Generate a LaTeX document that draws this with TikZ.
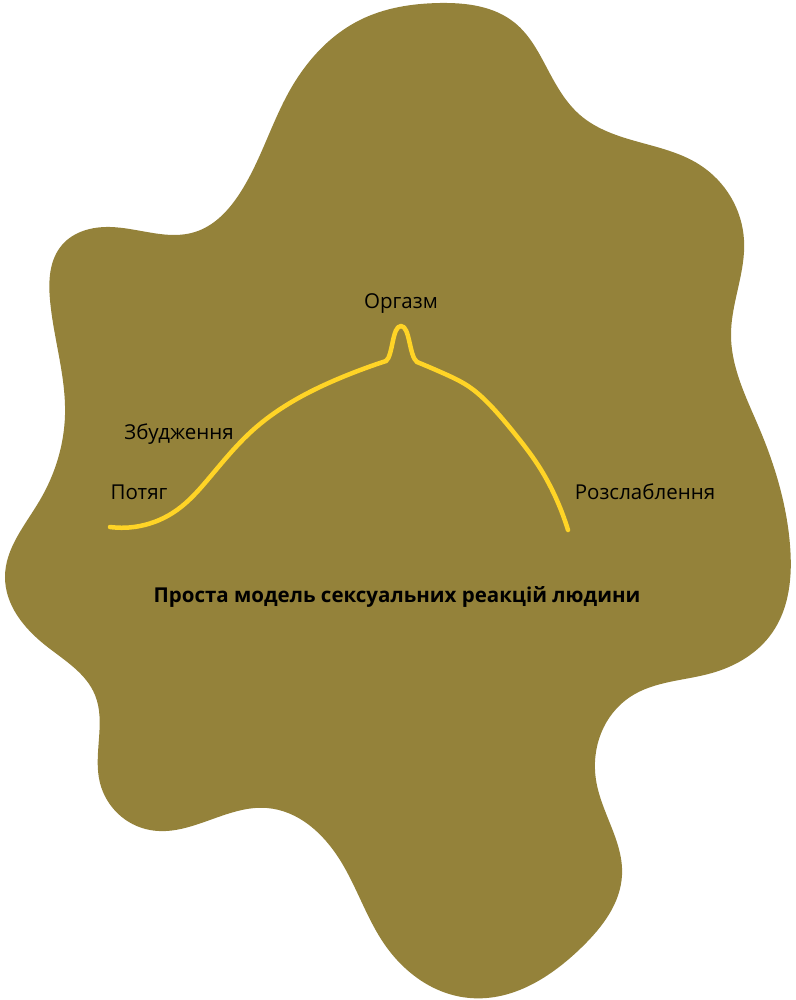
\documentclass[tikz,border=0pt]{standalone}
\usepackage{fontspec}
\setmainfont{Open Sans}
\usetikzlibrary{hobby}
\definecolor{olive}{RGB}{148,130,58}
\definecolor{curveyellow}{RGB}{255,212,38}
\begin{document}
\begin{tikzpicture}[x=1pt,y=-1pt,
  lbl/.style={font=\fontsize{20.5}{24}\selectfont, text=black, inner sep=0pt},
  ttl/.style={font=\bfseries\fontsize{20.5}{24}\selectfont, text=black, inner sep=0pt},
  curveline/.style={curveyellow, line width=4.5pt, line cap=round, line join=round}]
\useasboundingbox (0,0) rectangle (795,1000);
\fill[olive, use Hobby shortcut, closed=true]
 (440,3) .. (515,23) .. (548,70) .. (580,115) .. (625,138) .. (700,165) .. (744,240)
 .. (731,335) .. (760,430) .. (790,545) .. (772,633) .. (712,673)
 .. (630,697) .. (596,780) .. (622,875) .. (582,947) .. (470,998)
 .. (385,945) .. (340,860) .. (267,808) .. (150,830) .. (100,783)
 .. (95,695) .. (45,645) .. (5,577) .. (40,500) .. (65,415)
 .. (50,300) .. (62,245) .. (110,227) .. (195,232) .. (240,193)
 .. (290,90) .. (360,20);
\draw[curveline, use Hobby shortcut]
  (110,527) .. (140,526) .. (177,510) .. (210,477) .. (253,430) .. (295,400) .. (345,376) .. (386,361);
\draw[curveline]
  (386,361) .. controls (393,356) and (392,326) .. (401,326)
  .. controls (410,326) and (409,356) .. (417,362);
\draw[curveline, use Hobby shortcut]
  (417,362) .. (445,374) .. (468,386) .. (490,405) .. (515,434) .. (538,465) .. (555,496) .. (568,530);
\node[lbl] (orgasm) at (401,304) {Оргазм};
\node[lbl] (arousal) at (179,434) {Збудження};
\node[lbl] (desire) at (139,492) {Потяг};
\node[lbl] (relax) at (645,492) {Розслаблення};
\node[ttl] (title) at (397,597) {Проста модель сексуальних реакцій людини};
\end{tikzpicture}
\end{document}
